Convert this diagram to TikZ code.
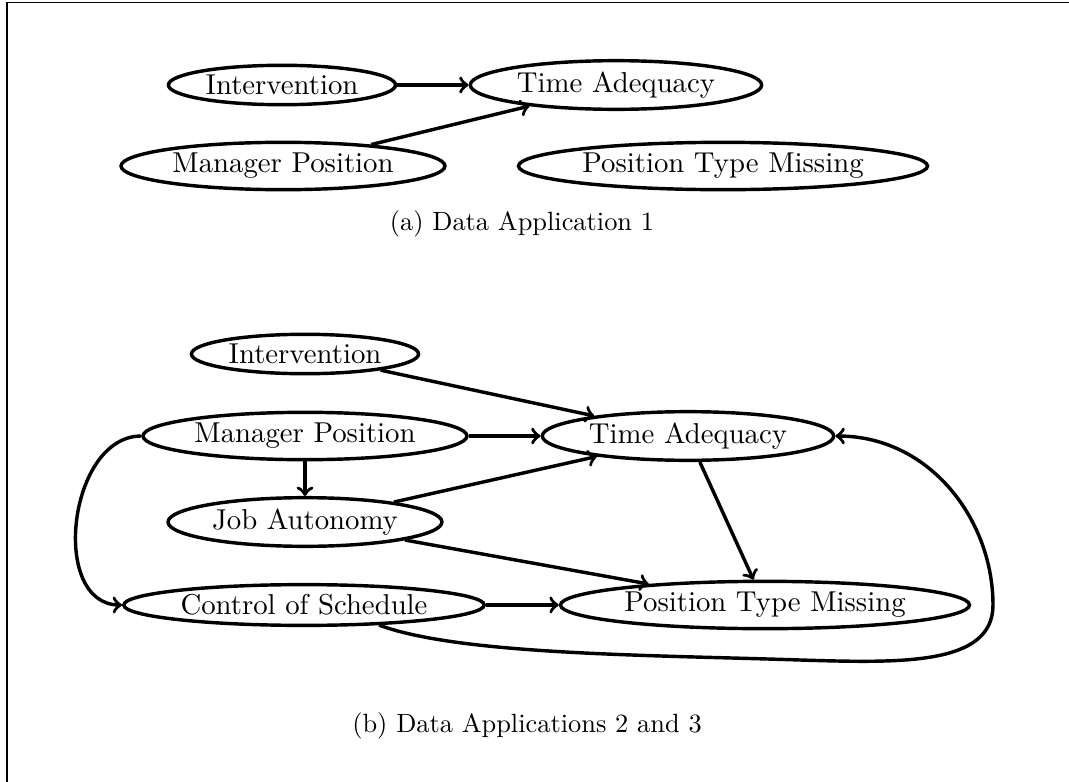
\documentclass[tikz,border=0pt]{standalone}
\usetikzlibrary{shapes.geometric}
\begin{document}
\begin{tikzpicture}[x=0.379pt,y=0.379pt,
  var/.style={draw, ellipse, line width=1.3pt, inner sep=1.5pt, font=\fontsize{10.9}{13}\selectfont},
  edge/.style={->, line width=1.3pt},
  captext/.style={font=\fontsize{10}{12}\selectfont}]
\useasboundingbox (0,0) rectangle (1069,-782);
\draw[line width=0.4pt] (7,-782) -- (7,-2.5) -- (1069,-2.5);
% panel (a)
\node[var] (IntA) at (282,-85) {Intervention};
\node[var] (TAA)  at (616,-85) {Time Adequacy};
\node[var] (MPA)  at (283,-166) {Manager Position};
\node[var] (PTMA) at (723,-166) {Position Type Missing};
\node[captext] (capA) at (522,-224) {(a) Data Application 1};
\draw[edge] (IntA) -- (TAA);
\draw[edge] (MPA) -- (TAA);
% panel (b)
\node[var] (IntB) at (305,-354) {Intervention};
\node[var] (MPB)  at (305,-436) {Manager Position};
\node[var] (TAB)  at (688,-436) {Time Adequacy};
\node[var] (JAB)  at (305,-522) {Job Autonomy};
\node[var] (CSB)  at (304,-605) {Control of Schedule};
\node[var] (PTMB) at (765,-605) {Position Type Missing};
\node[captext] (capB) at (527,-726) {(b) Data Applications 2 and 3};
\draw[edge] (IntB) -- (TAB);
\draw[edge] (MPB) -- (TAB);
\draw[edge] (MPB) -- (JAB);
\draw[edge] (JAB) -- (TAB);
\draw[edge] (JAB) -- (PTMB);
\draw[edge] (TAB) -- (PTMB);
\draw[edge] (CSB) -- (PTMB);
\draw[edge] (MPB.west) to[out=180,in=180,looseness=1.1] (CSB.west);
\coordinate (low) at (800,-660);
\coordinate (rgt) at (993,-605);
\draw[edge] (CSB.-15) .. controls (460,-655) and (650,-655) .. (low)
  .. controls (900,-663) and (993,-666) .. (rgt)
  .. controls (993,-520) and (930,-436) .. (TAB.east);
\end{tikzpicture}
\end{document}
